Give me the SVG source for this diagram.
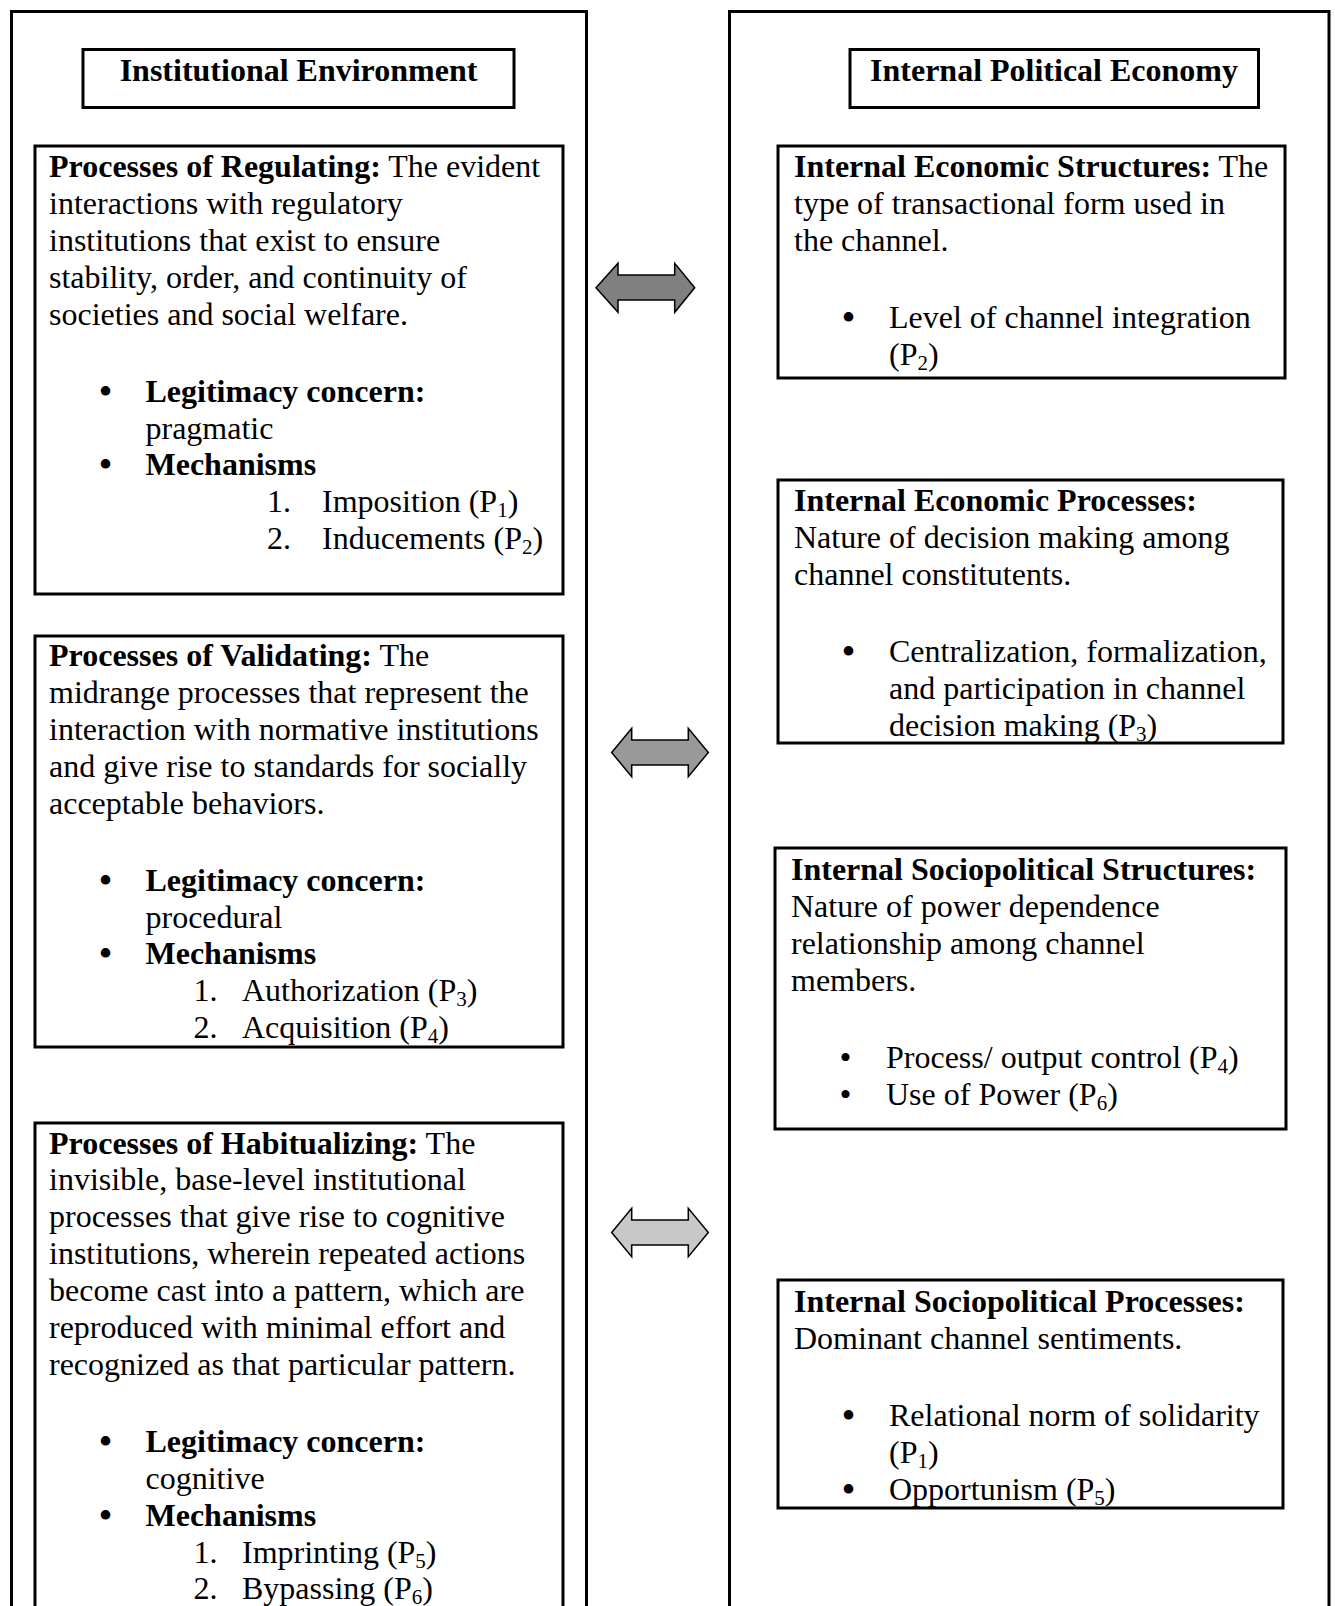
<svg xmlns="http://www.w3.org/2000/svg" width="1335" height="1606" viewBox="0 0 1335 1606">
<style>
.frame{fill:none;stroke:#000;stroke-width:3}
.box{fill:#fff;stroke:#000;stroke-width:3}
text{font-family:"Liberation Serif","Times New Roman",serif;font-size:32px;fill:#000}
.b{font-weight:bold}
.c{text-anchor:middle}
.bu{text-anchor:middle;font-size:40px}
.bs{text-anchor:middle;font-size:34px}
.arrow{stroke:#000;stroke-width:1.5;stroke-linejoin:miter}
</style>
<rect width="1335" height="1606" fill="#fff"/>

<g id="left-column">
  <rect class="frame" x="11.5" y="11.5" width="575" height="1640"/>
</g>
<g id="right-column">
  <rect class="frame" x="729.5" y="11.5" width="599.5" height="1640"/>
</g>

<g id="title-institutional">
  <rect class="box" x="83" y="49.5" width="431" height="58"/>
  <text class="b c" x="298.5" y="81">Institutional Environment</text>
</g>

<g id="title-political">
  <rect class="box" x="850" y="49.5" width="408.5" height="58"/>
  <text class="b c" x="1054" y="81">Internal Political Economy</text>
</g>

<g id="regulating">
  <rect class="box" x="35" y="146" width="528" height="448"/>
  <text x="49" y="177"><tspan class="b">Processes of Regulating:</tspan> The evident</text>
  <text x="49" y="213.9">interactions with regulatory</text>
  <text x="49" y="250.8">institutions that exist to ensure</text>
  <text x="49" y="287.7">stability, order, and continuity of</text>
  <text x="49" y="324.6">societies and social welfare.</text>
  <text class="bu" x="105.5" y="404.6">•</text>
  <text class="b" x="145.5" y="401.6">Legitimacy concern:</text>
  <text x="145.5" y="438.5">pragmatic</text>
  <text class="bu" x="105.5" y="478.4">•</text>
  <text class="b" x="145.5" y="475.4">Mechanisms</text>
  <text x="267" y="512.3">1.</text>
  <text x="322" y="512.3">Imposition (P<tspan font-size="21" dy="5">1</tspan><tspan dy="-5">)</tspan></text>
  <text x="267" y="549.2">2.</text>
  <text x="322" y="549.2">Inducements (P<tspan font-size="21" dy="5">2</tspan><tspan dy="-5">)</tspan></text>
</g>

<g id="validating">
  <rect class="box" x="35" y="636" width="528" height="411"/>
  <text x="49" y="666"><tspan class="b">Processes of Validating:</tspan> The</text>
  <text x="49" y="702.9">midrange processes that represent the</text>
  <text x="49" y="739.8">interaction with normative institutions</text>
  <text x="49" y="776.7">and give rise to standards for socially</text>
  <text x="49" y="813.6">acceptable behaviors.</text>
  <text class="bu" x="105.5" y="893.6">•</text>
  <text class="b" x="145.5" y="890.6">Legitimacy concern:</text>
  <text x="145.5" y="927.5">procedural</text>
  <text class="bu" x="105.5" y="967.4">•</text>
  <text class="b" x="145.5" y="964.4">Mechanisms</text>
  <text x="193.5" y="1001.3">1.</text>
  <text x="242" y="1001.3">Authorization (P<tspan font-size="21" dy="5">3</tspan><tspan dy="-5">)</tspan></text>
  <text x="193.5" y="1038.2">2.</text>
  <text x="242" y="1038.2">Acquisition (P<tspan font-size="21" dy="5">4</tspan><tspan dy="-5">)</tspan></text>
</g>

<g id="habitualizing">
  <rect class="box" x="35" y="1123" width="528" height="520"/>
  <text x="49" y="1153.5"><tspan class="b">Processes of Habitualizing:</tspan> The</text>
  <text x="49" y="1190.4">invisible, base-level institutional</text>
  <text x="49" y="1227.3">processes that give rise to cognitive</text>
  <text x="49" y="1264.2">institutions, wherein repeated actions</text>
  <text x="49" y="1301.1">become cast into a pattern, which are</text>
  <text x="49" y="1338">reproduced with minimal effort and</text>
  <text x="49" y="1374.9">recognized as that particular pattern.</text>
  <text class="bu" x="105.5" y="1455">•</text>
  <text class="b" x="145.5" y="1452">Legitimacy concern:</text>
  <text x="145.5" y="1488.9">cognitive</text>
  <text class="bu" x="105.5" y="1528.8">•</text>
  <text class="b" x="145.5" y="1525.8">Mechanisms</text>
  <text x="193.5" y="1562.7">1.</text>
  <text x="242" y="1562.7">Imprinting (P<tspan font-size="21" dy="5">5</tspan><tspan dy="-5">)</tspan></text>
  <text x="193.5" y="1599">2.</text>
  <text x="242" y="1599">Bypassing (P<tspan font-size="21" dy="5">6</tspan><tspan dy="-5">)</tspan></text>
</g>

<g id="economic-structures">
  <rect class="box" x="778" y="146" width="507" height="232"/>
  <text x="794" y="177"><tspan class="b">Internal Economic Structures:</tspan> The</text>
  <text x="794" y="213.9">type of transactional form used in</text>
  <text x="794" y="250.8">the channel.</text>
  <text class="bu" x="848.5" y="330.8">•</text>
  <text x="889" y="327.8">Level of channel integration</text>
  <text x="889" y="364.7">(P<tspan font-size="21" dy="5">2</tspan><tspan dy="-5">)</tspan></text>
</g>

<g id="economic-processes">
  <rect class="box" x="778" y="480" width="505" height="263"/>
  <text class="b" x="794" y="511">Internal Economic Processes:</text>
  <text x="794" y="547.9">Nature of decision making among</text>
  <text x="794" y="584.8">channel constitutents.</text>
  <text class="bu" x="848.5" y="664.8">•</text>
  <text x="889" y="661.8">Centralization, formalization,</text>
  <text x="889" y="698.7">and participation in channel</text>
  <text x="889" y="735.6">decision making (P<tspan font-size="21" dy="5">3</tspan><tspan dy="-5">)</tspan></text>
</g>

<g id="sociopolitical-structures">
  <rect class="box" x="775" y="848" width="511" height="281"/>
  <text class="b" x="791" y="880">Internal Sociopolitical Structures:</text>
  <text x="791" y="916.9">Nature of power dependence</text>
  <text x="791" y="953.8">relationship among channel</text>
  <text x="791" y="990.7">members.</text>
  <text class="bs" x="845.5" y="1069">•</text>
  <text x="886" y="1067.7">Process/ output control (P<tspan font-size="21" dy="5">4</tspan><tspan dy="-5">)</tspan></text>
  <text class="bs" x="845.5" y="1106">•</text>
  <text x="886" y="1104.6">Use of Power (P<tspan font-size="21" dy="5">6</tspan><tspan dy="-5">)</tspan></text>
</g>

<g id="sociopolitical-processes">
  <rect class="box" x="778" y="1280" width="505" height="228"/>
  <text class="b" x="794" y="1312">Internal Sociopolitical Processes:</text>
  <text x="794" y="1348.9">Dominant channel sentiments.</text>
  <text class="bu" x="848.5" y="1428.9">•</text>
  <text x="889" y="1425.9">Relational norm of solidarity</text>
  <text x="889" y="1462.8">(P<tspan font-size="21" dy="5">1</tspan><tspan dy="-5">)</tspan></text>
  <text class="bu" x="848.5" y="1502.7">•</text>
  <text x="889" y="1499.7">Opportunism (P<tspan font-size="21" dy="5">5</tspan><tspan dy="-5">)</tspan></text>
</g>

<g id="connectors">
  <path class="arrow" fill="#808080" d="M596,287.7 L618,263.3 L618,275 L674.7,275 L674.7,263.3 L694.7,287.7 L674.7,312.3 L674.7,300 L618,300 L618,312.3 Z"/>
  <path class="arrow" fill="#999999" d="M611.7,752.5 L631.7,728.3 L631.7,740 L688.3,740 L688.3,728.3 L708.3,752.5 L688.3,776.7 L688.3,765 L631.7,765 L631.7,776.7 Z"/>
  <path class="arrow" fill="#c8c8c8" d="M611.7,1232.5 L631.7,1208.3 L631.7,1220 L688.3,1220 L688.3,1208.3 L708.3,1232.5 L688.3,1256.7 L688.3,1245 L631.7,1245 L631.7,1256.7 Z"/>
</g>
</svg>
